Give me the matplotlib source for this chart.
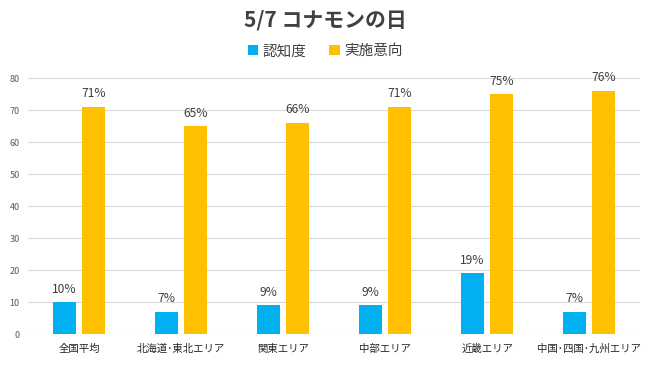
import matplotlib
matplotlib.use("Agg")
import matplotlib.pyplot as plt
import numpy as np

plt.rcParams['font.family'] = ['Noto Sans CJK JP', 'DejaVu Sans']

# data
areas = ['全国平均', '北海道･東北エリア', '関東エリア', '中部エリア', '近畿エリア', '中国･四国･九州エリア']
awareness = [10, 7, 9, 9, 19, 7]
intention = [71, 65, 66, 71, 75, 76]
series_names = ['認知度', '実施意向']
title = '5/7 コナモンの日'

blue = '#00B0F0'
gold = '#FFC000'
grey = '#595959'
dark = '#404040'

fig = plt.figure(figsize=(6.5, 3.71), dpi=100)
ax = fig.add_axes([0.043, 0.0997, 0.942, 0.690])

x = np.arange(len(areas))
w = 0.225
off = 0.142
b1 = ax.bar(x - off, awareness, w, color=blue, label=series_names[0], zorder=3)
b2 = ax.bar(x + off, intention, w, color=gold, label=series_names[1], zorder=3)

for bars, vals in [(b1, awareness), (b2, intention)]:
    for r, v in zip(bars, vals):
        ax.text(r.get_x() + r.get_width() / 2, v + 2.0, f'{v}%', ha='center', va='bottom',
                fontsize=8.7, color=dark, clip_on=False)

ax.set_xlim(-0.5, len(areas) - 0.5)
ax.set_ylim(0, 80)
ax.set_yticks(range(0, 81, 10))
ax.set_xticks(x)
ax.set_xticklabels(areas, fontsize=7.5, color='#262626')
ax.tick_params(axis='y', labelsize=6.5, labelcolor=grey, length=0, pad=6)
ax.tick_params(axis='x', length=0, pad=7)
ax.grid(axis='y', color='#D9D9D9', linewidth=0.8, zorder=0)
for s in ax.spines.values():
    s.set_visible(False)

fig.text(0.5, 0.945, title, ha='center', va='center', fontsize=15, fontweight='bold', color=dark)
fig.legend(loc='center', bbox_to_anchor=(0.5, 0.862), ncol=2, frameon=False, fontsize=10.5,
           handlelength=0.7, handleheight=0.7, handletextpad=0.3, columnspacing=1.6,
           labelcolor=dark)

fig.savefig('out.png', dpi=100)
